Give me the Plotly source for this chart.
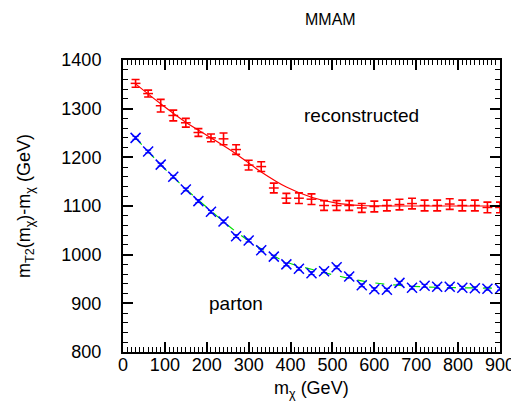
import plotly.graph_objects as go

x_vals = [30, 60, 90, 120, 150, 180, 210, 240, 270, 300, 330, 360, 390, 420, 450,
          480, 510, 540, 570, 600, 630, 660, 690, 720, 750, 780, 810, 840, 870, 900]

reco_vals = [1352, 1331, 1306, 1286, 1271, 1251, 1240, 1238, 1216, 1184, 1181, 1137, 1116, 1116, 1114,
             1101, 1101, 1101, 1096, 1099, 1101, 1103, 1105, 1101, 1101, 1104, 1101, 1101, 1097, 1097]
reco_err = [8, 7, 13, 11, 9, 8, 8, 12, 10, 10, 10, 10, 10, 11, 11,
            10, 10, 10, 9, 11, 11, 11, 11, 11, 11, 11, 11, 11, 11, 11]

parton_vals = [1240, 1212, 1185, 1160, 1134, 1110, 1088, 1068, 1038, 1029, 1009, 996, 980, 971, 962,
               966, 974, 955, 937, 929, 928, 942, 932, 936, 934, 934, 932, 931, 930, 930]
parton_err = [3] * 30

reco_fit_x = [30, 90, 150, 210, 270, 330, 390, 450, 510, 570, 630, 700, 800, 900]
reco_fit_y = [1351, 1310, 1272, 1240, 1207, 1170, 1139, 1118, 1106, 1101, 1100, 1100, 1100, 1100]

parton_fit_x = [30, 90, 150, 210, 270, 330, 390, 450, 510, 570, 630, 690, 750, 810, 900]
parton_fit_y = [1240, 1185, 1135, 1090, 1047, 1012, 985, 970, 957, 946, 939, 935, 933, 932, 931]

fig = go.Figure()

fig.add_trace(go.Scatter(x=reco_fit_x, y=reco_fit_y, mode="lines",
                         line=dict(color="#ff0000", width=1.2, shape="spline"),
                         showlegend=False, hoverinfo="skip"))
fig.add_trace(go.Scatter(x=parton_fit_x, y=parton_fit_y, mode="lines",
                         line=dict(color="#00e000", width=1.2, dash="dash", shape="spline"),
                         showlegend=False, hoverinfo="skip"))

fig.add_trace(go.Scatter(x=x_vals, y=reco_vals, mode="markers",
                         marker=dict(symbol="line-ew", size=7, color="#ff0000",
                                     line=dict(color="#ff0000", width=1.5)),
                         error_y=dict(type="data", array=reco_err, color="#ff0000",
                                      thickness=1.6, width=4),
                         showlegend=False))
fig.add_trace(go.Scatter(x=x_vals, y=parton_vals, mode="markers",
                         marker=dict(symbol="x-thin", size=10, color="#0000ff",
                                     line=dict(color="#0000ff", width=1.5)),
                         error_y=dict(type="data", array=parton_err, color="#0000ff",
                                      thickness=1, width=3),
                         showlegend=False))

font_family = "Liberation Sans, Arial, sans-serif"

fig.update_layout(
    width=519, height=403,
    margin=dict(l=115, r=20, t=52, b=59),
    plot_bgcolor="white", paper_bgcolor="white",
    font=dict(family=font_family, size=18, color="black"),
    xaxis=dict(range=[0, 900], tickvals=[0, 100, 200, 300, 400, 500, 600, 700, 800, 900],
               ticks="inside", ticklen=10, tickwidth=1.5, tickcolor="black",
               minor=dict(dtick=10, ticklen=5, tickwidth=1, tickcolor="black", ticks="inside"),
               showline=True, linecolor="black", linewidth=2, mirror="ticks",
               showgrid=False, zeroline=False,
               tickfont=dict(size=18), ticklabelstandoff=-5),
    yaxis=dict(range=[800, 1400], tickvals=[800, 900, 1000, 1100, 1200, 1300, 1400],
               ticks="inside", ticklen=10, tickwidth=1.5, tickcolor="black",
               minor=dict(dtick=20, ticklen=5, tickwidth=1, tickcolor="black", ticks="inside"),
               showline=True, linecolor="black", linewidth=2, mirror="ticks",
               showgrid=False, zeroline=False,
               tickfont=dict(size=18), ticklabelstandoff=16,
               title=dict(text="m<sub>T2</sub>(m<sub>χ</sub>)-m<sub>χ</sub> (GeV)",
                          font=dict(size=18), standoff=26)),
    annotations=[
        dict(text="MMAM", x=0.55, y=1.0, xref="paper", yref="paper", yshift=41,
             yanchor="middle", showarrow=False, font=dict(size=16)),
        dict(text="m<sub>χ</sub> (GeV)", x=0.5, y=0.0, xref="paper", yref="paper",
             yshift=-37, yanchor="middle", showarrow=False, font=dict(size=18)),
        dict(text="reconstructed", x=569, y=1285, xref="x", yref="y",
             showarrow=False, font=dict(size=19)),
        dict(text="parton", x=270, y=899, xref="x", yref="y",
             showarrow=False, font=dict(size=19)),
    ],
)

fig.write_html("out.html")
